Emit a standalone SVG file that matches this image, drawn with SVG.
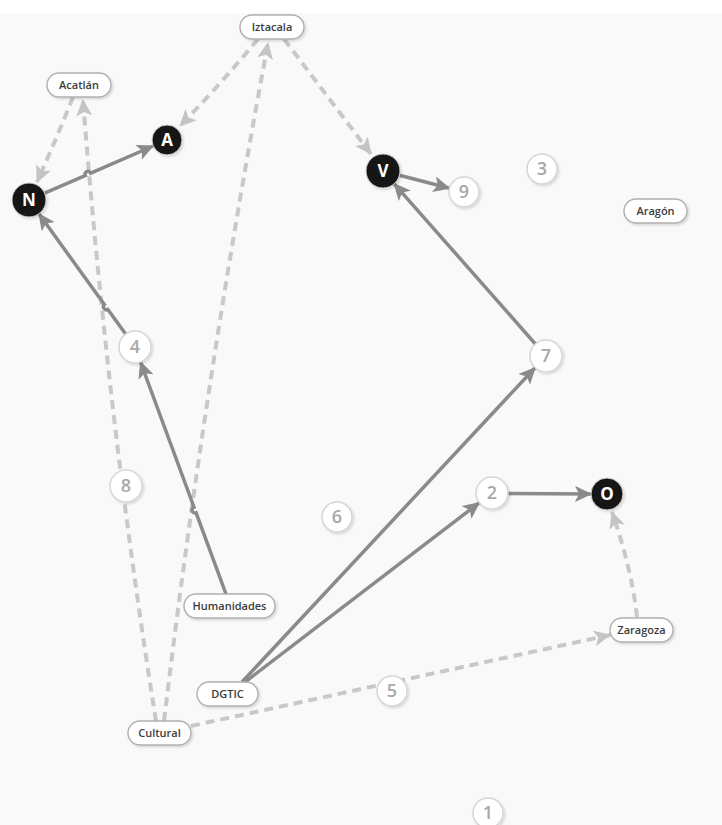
<svg xmlns="http://www.w3.org/2000/svg" width="722" height="825" viewBox="0 0 722 825">
<defs>
<style>
.pill rect{fill:#fff;stroke:#b0b0b0;stroke-width:1.4}
.pill text{font-family:"Open Sans","Liberation Sans",sans-serif;font-size:11px;font-weight:600;fill:#3c3c3c;text-anchor:middle}
.num circle{fill:#fff;stroke:#d6d6d6;stroke-width:1.5}
.num text{font-family:"Open Sans","Liberation Sans",sans-serif;font-size:18px;font-weight:600;fill:#a8a8a8;text-anchor:middle}
.blk circle{fill:#151515;stroke:#d0d0d0;stroke-width:1}
.blk text{font-family:"Open Sans","Liberation Sans",sans-serif;font-size:17px;font-weight:bold;fill:#fff;text-anchor:middle}
.solid{fill:none;stroke:#8a8a8a;stroke-width:3.5;marker-end:url(#ah)}
.dash{fill:none;stroke:#c8c8c8;stroke-width:4;stroke-dasharray:9 6;marker-end:url(#ahd)}
</style>
<marker id="ah" markerUnits="userSpaceOnUse" markerWidth="17" markerHeight="16" refX="16" refY="8" orient="auto"><path d="M0,0 L17,8 L0,16 L4,8 Z" fill="#8a8a8a"/></marker>
<marker id="ahd" markerUnits="userSpaceOnUse" markerWidth="17" markerHeight="16" refX="16" refY="8" orient="auto"><path d="M0,0 L17,8 L0,16 L4,8 Z" fill="#c4c4c4"/></marker>
<filter id="sh" x="-30%" y="-30%" width="160%" height="160%"><feDropShadow dx="1.5" dy="1.5" stdDeviation="1" flood-color="#000" flood-opacity="0.15"/></filter>
</defs>
<rect x="0" y="0" width="722" height="825" fill="#fff"/>
<rect x="0" y="13" width="722" height="812" fill="#f9f9f9"/>
<g id="connectors">
<path class="dash" d="M73,97 Q58,135 37,182"/>
<path class="dash" d="M156,721 Q108,420 83,100"/>
<path class="dash" d="M258,39 Q220,85 180,126"/>
<path class="dash" d="M164,721 Q205,380 268,43"/>
<path class="dash" d="M284,39 L371,154"/>
<path class="dash" d="M191,726 L610,635"/>
<path class="dash" d="M637,617 Q632,570 612,512"/>
<path class="solid" d="M44.6,193.2 L85.2,175.5 A3,3 0 0 1 90.7,173.1 L153.2,146"/>
<path class="solid" d="M125.6,334 L107.9,309.4 A3,3 0 0 1 104.4,304.6 L38.9,213.8"/>
<path class="solid" d="M226,594 L196.1,512.8 A3,3 0 0 1 194,507.1 L140.5,362"/>
<path class="solid" d="M535.4,344 L394.2,183.8"/>
<path class="solid" d="M399.5,175.3 L449.5,188.2"/>
<path class="solid" d="M242,682 L535.1,367.7"/>
<path class="solid" d="M245,682 L479.3,502.7"/>
<path class="solid" d="M508,493.5 L591,494"/>
</g>
<g id="Iztacala" class="pill"><rect x="240" y="15" width="64" height="24" rx="12" filter="url(#sh)"/><text x="272" y="31">Iztacala</text></g>
<g id="Acatlan" class="pill"><rect x="47" y="73" width="64" height="24" rx="12" filter="url(#sh)"/><text x="79" y="89">Acatlán</text></g>
<g id="Aragon" class="pill"><rect x="624" y="199" width="63" height="24" rx="12" filter="url(#sh)"/><text x="655.5" y="215">Aragón</text></g>
<g id="Humanidades" class="pill"><rect x="184" y="594" width="91" height="24" rx="12" filter="url(#sh)"/><text x="229.5" y="610">Humanidades</text></g>
<g id="DGTIC" class="pill"><rect x="197" y="682" width="61" height="24" rx="12" filter="url(#sh)"/><text x="227.5" y="698">DGTIC</text></g>
<g id="Cultural" class="pill"><rect x="128" y="721" width="63" height="24" rx="12" filter="url(#sh)"/><text x="159.5" y="737">Cultural</text></g>
<g id="Zaragoza" class="pill"><rect x="610" y="618" width="63" height="24" rx="12" filter="url(#sh)"/><text x="641.5" y="634">Zaragoza</text></g>
<g id="A" class="blk"><circle cx="167" cy="140" r="15" filter="url(#sh)"/><text x="167" y="146">A</text></g>
<g id="N" class="blk"><circle cx="29" cy="200" r="17" filter="url(#sh)"/><text x="29" y="206">N</text></g>
<g id="V" class="blk"><circle cx="383" cy="171" r="17" filter="url(#sh)"/><text x="383" y="177">V</text></g>
<g id="O" class="blk"><circle cx="607" cy="494" r="16" filter="url(#sh)"/><text x="607" y="500">O</text></g>
<g id="n9" class="num"><circle cx="464" cy="192" r="15" filter="url(#sh)"/><text x="464" y="198">9</text></g>
<g id="n3" class="num"><circle cx="542" cy="169" r="15" filter="url(#sh)"/><text x="542" y="175">3</text></g>
<g id="n4" class="num"><circle cx="135" cy="347" r="16" filter="url(#sh)"/><text x="135" y="353">4</text></g>
<g id="n8" class="num"><circle cx="126" cy="486" r="16" filter="url(#sh)"/><text x="126" y="492">8</text></g>
<g id="n7" class="num"><circle cx="546" cy="356" r="16" filter="url(#sh)"/><text x="546" y="362">7</text></g>
<g id="n2" class="num"><circle cx="492" cy="493" r="16" filter="url(#sh)"/><text x="492" y="499">2</text></g>
<g id="n6" class="num"><circle cx="337" cy="517" r="15" filter="url(#sh)"/><text x="337" y="523">6</text></g>
<g id="n5" class="num"><circle cx="392" cy="691" r="15" filter="url(#sh)"/><text x="392" y="697">5</text></g>
<g id="n1" class="num"><circle cx="488" cy="813" r="15" filter="url(#sh)"/><text x="488" y="819">1</text></g>
</svg>
